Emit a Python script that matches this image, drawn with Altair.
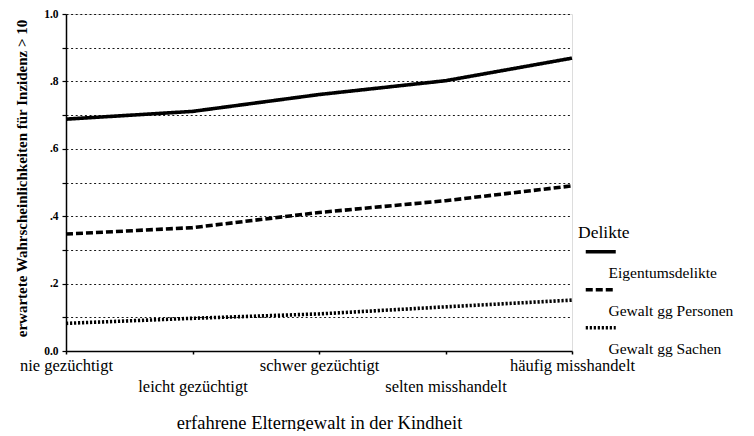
import altair as alt
import pandas as pd

categories = ["nie gezüchtigt", "leicht gezüchtigt", "schwer gezüchtigt",
              "selten misshandelt", "häufig misshandelt"]
series_names = ["Eigentumsdelikte", "Gewalt gg Personen", "Gewalt gg Sachen"]
eigentum = [0.688, 0.711, 0.761, 0.802, 0.869]
personen = [0.347, 0.366, 0.411, 0.446, 0.490]
sachen = [0.082, 0.097, 0.110, 0.131, 0.151]
y_ticks = [0.0, 0.1, 0.2, 0.3, 0.4, 0.5, 0.6, 0.7, 0.8, 0.9, 1.0]

rows = []
for name, vals in zip(series_names, [eigentum, personen, sachen]):
    for i, (c, v) in enumerate(zip(categories, vals)):
        rows.append({"Kategorie": c, "Wert": v, "Delikte": name, "ord": i})
df = pd.DataFrame(rows)

FONT = "Liberation Serif"

y_label_expr = (
    "datum.value == 0 ? '0.0' : datum.value == 1 ? '1.0' : "
    "(round(datum.value*10) % 2 == 0 ? replace(format(datum.value, '.1f'), '0.', '.') : '')"
)
x_label_expr = (
    "indexof(['leicht gezüchtigt','selten misshandelt'], datum.value) >= 0 "
    "? ['', datum.label] : datum.label"
)

chart = alt.Chart(df).mark_line(strokeWidth=3.6, color="black").encode(
    x=alt.X("Kategorie:N", sort=categories,
            scale=alt.Scale(domain=categories, padding=0),
            axis=alt.Axis(title="erfahrene Elterngewalt in der Kindheit",
                          labelAngle=0, labelExpr=x_label_expr,
                          labelLineHeight=21, labelPadding=3,
                          labelFont=FONT, labelFontSize=16.5, labelColor="black",
                          tickSize=3, tickColor="black", tickWidth=1.5,
                          domainColor="black", domainWidth=1.5,
                          titleFont=FONT, titleFontSize=18.5, titleFontWeight="normal",
                          titleColor="black", titleY=71, titleBaseline="middle",
                          grid=False)),
    y=alt.Y("Wert:Q", scale=alt.Scale(domain=[0, 1], nice=False, zero=True),
            axis=alt.Axis(title="erwartete Wahrscheinlichkeiten für Inzidenz > 10",
                          values=y_ticks, labelExpr=y_label_expr,
                          labelFont=FONT, labelFontSize=11.5, labelFontWeight="bold",
                          labelColor="black", labelPadding=4,
                          tickSize=4, tickColor="black", tickWidth=1.2,
                          domainColor="black", domainWidth=1.5,
                          grid=True, gridColor="black", gridDash=[2, 2.6],
                          gridWidth=1, gridOpacity=0.9,
                          titleFont=FONT, titleFontSize=15, titleFontWeight="bold",
                          titleColor="black", titleX=-45, titleY=164,
                          titleBaseline="middle", titleAngle=270)),
    strokeDash=alt.StrokeDash("Delikte:N",
                              scale=alt.Scale(domain=series_names,
                                              range=[[1, 0], [7, 3], [2.2, 1.8]]),
                              legend=alt.Legend(title="Delikte", orient="none",
                                                legendX=512, legendY=210,
                                                symbolType="M-6,-8.4L6,-8.4",
                                                symbolSize=25,
                                                symbolOffset=15,
                                                symbolStrokeWidth=3.6,
                                                symbolStrokeColor="black",
                                                labelBaseline="middle",
                                                labelOffset=0,
                                                labelFont=FONT, labelFontSize=15.5,
                                                labelColor="black", labelLimit=300,
                                                titleFont=FONT, titleFontSize=17.5,
                                                titleFontWeight="normal",
                                                titleColor="black", titlePadding=23.5,
                                                rowPadding=0, padding=0)),
    order="ord:Q",
).properties(
    width=506, height=337,
    autosize=alt.AutoSizeParams(type="none"),
    padding={"left": 58, "top": 6, "right": 170, "bottom": 80},
).configure_view(
    stroke="black", strokeWidth=1.5
).configure(background="white")

chart.save("out.html", embed_options={"renderer": "svg", "actions": False})
